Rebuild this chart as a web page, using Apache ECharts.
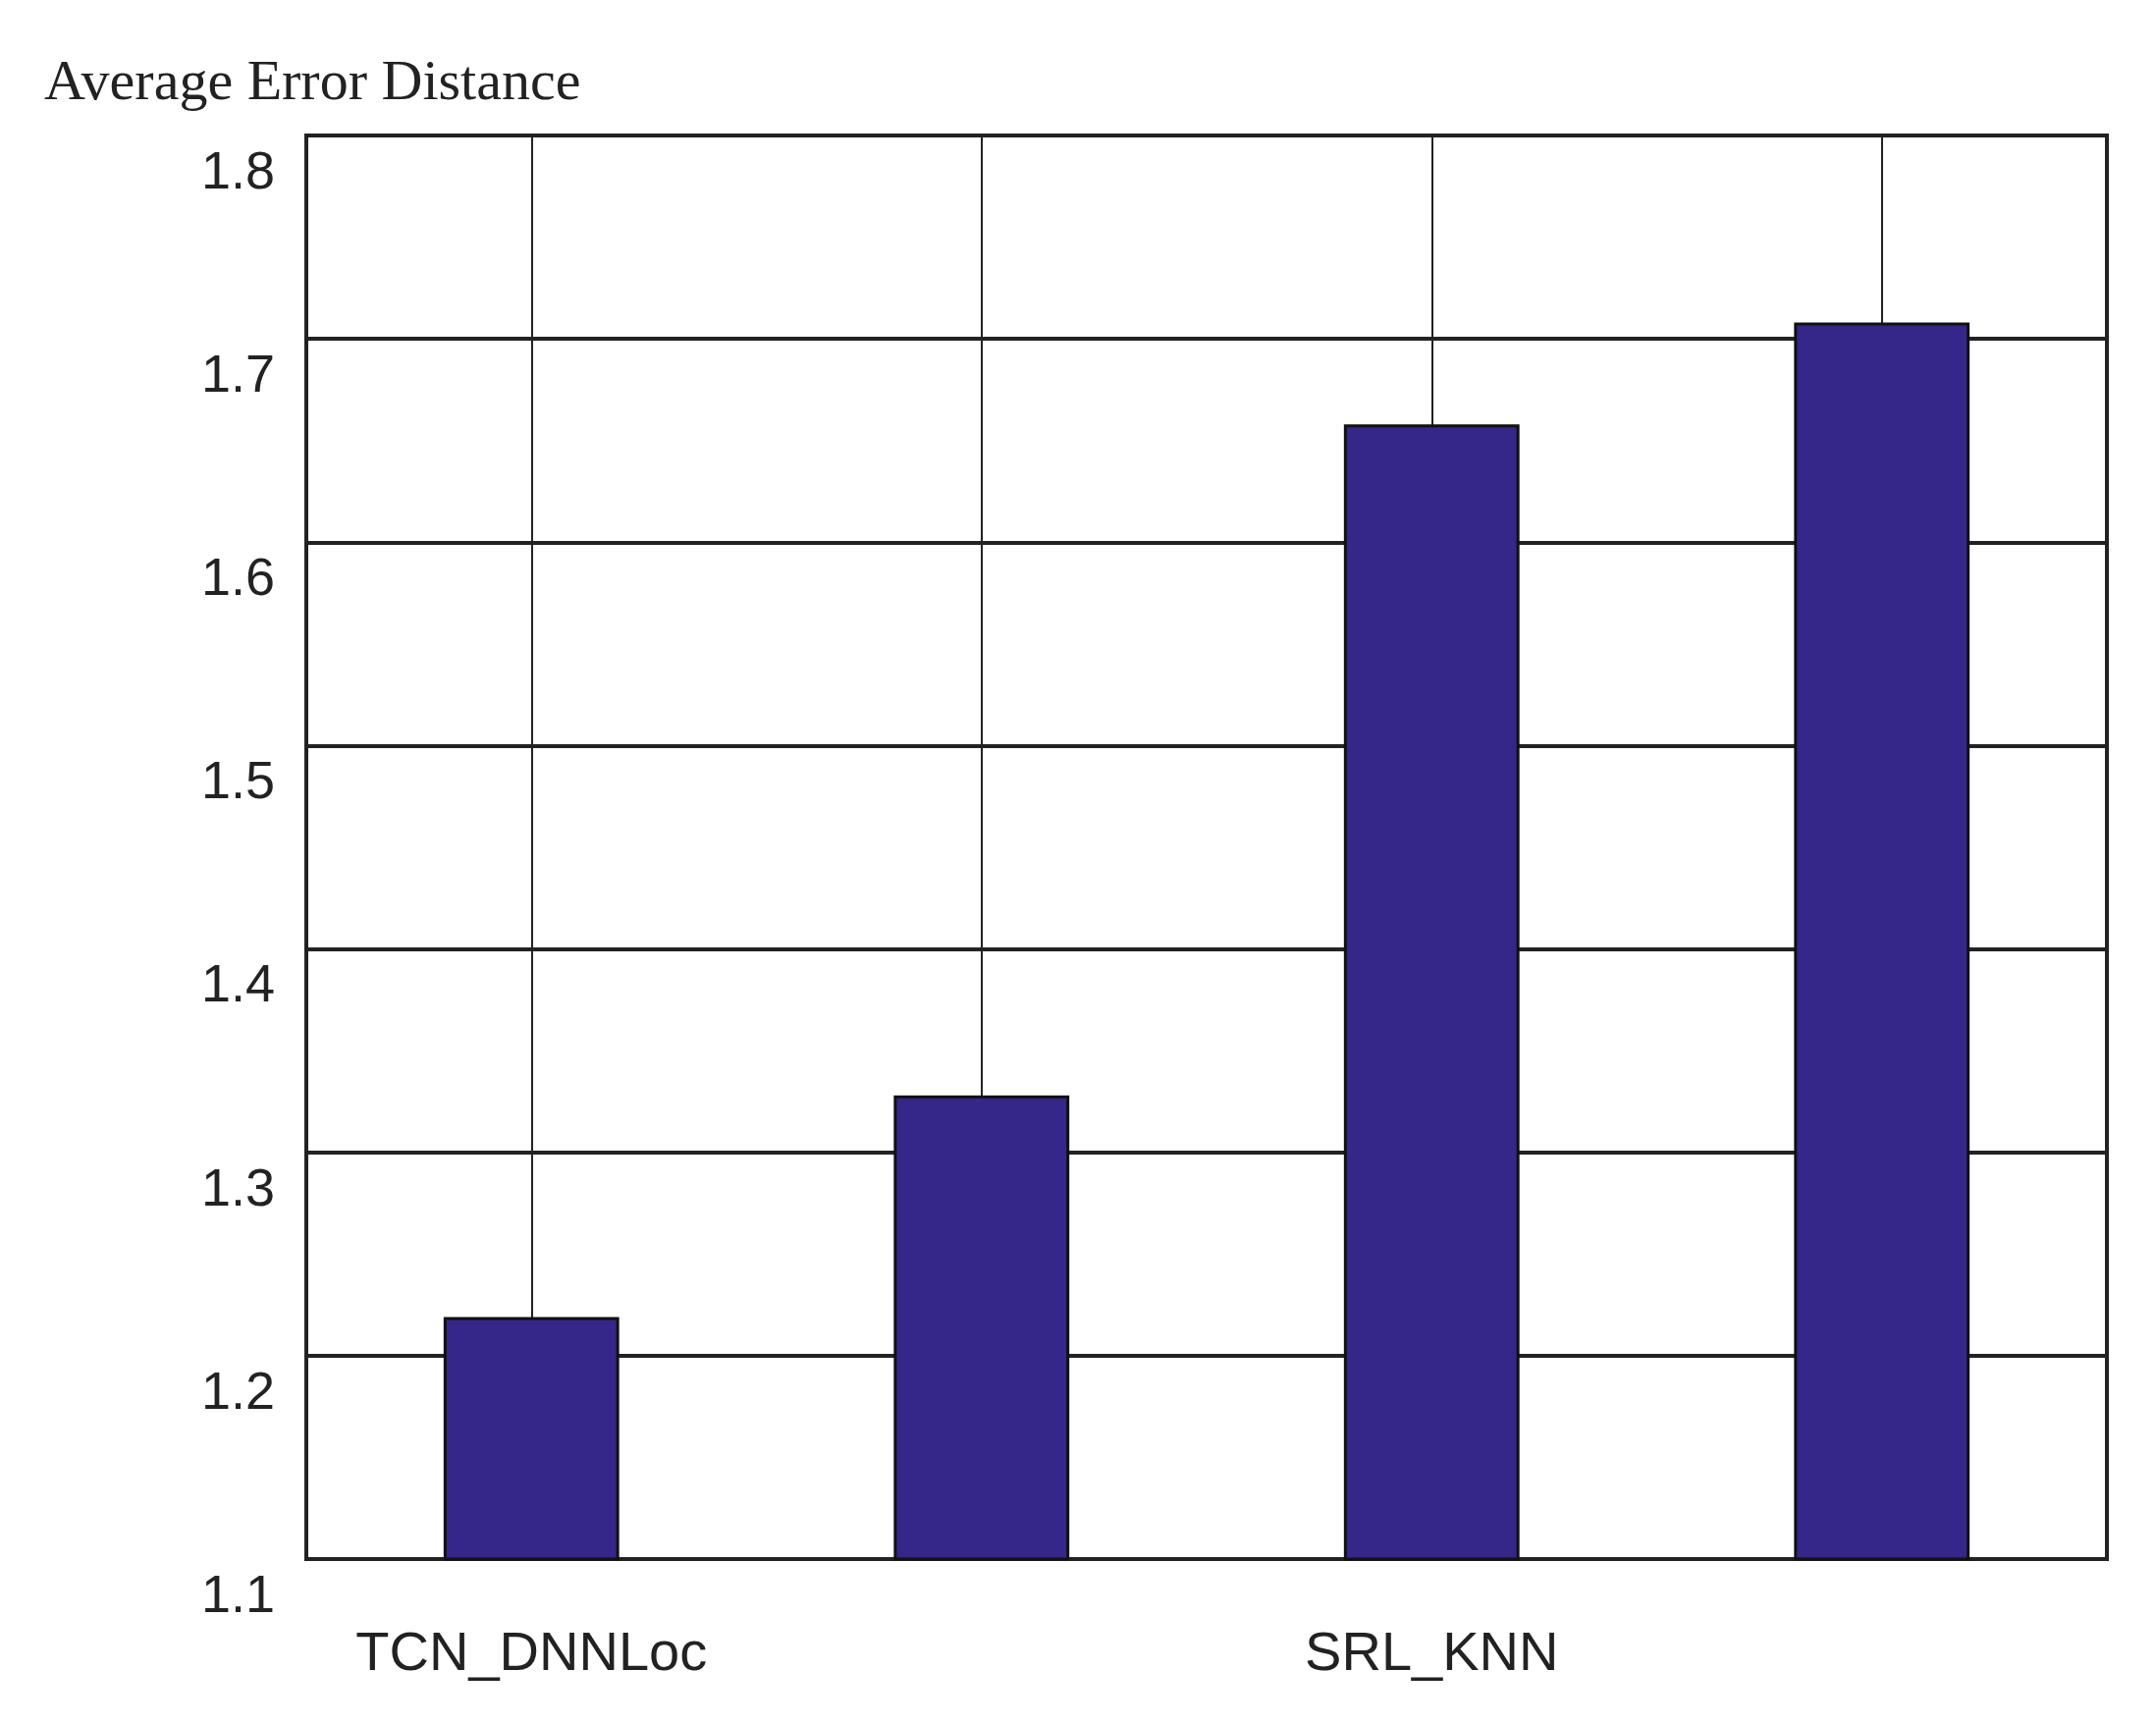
<!DOCTYPE html>
<html><head><meta charset="utf-8">
<script src="https://cdn.jsdelivr.net/npm/echarts@6/dist/echarts.min.js"></script>
<style>html,body{margin:0;background:#fff}#c{width:2196px;height:1756px}</style>
</head><body><div id="c"></div>
<script>
const categories = ['TCN_DNNLoc','LSTM','SRL_KNN','FNN'];
const values = [1.219, 1.328, 1.658, 1.708];
const yTitle = 'Average Error Distance';
const chart = echarts.init(document.getElementById('c'));
chart.setOption({
  backgroundColor:'#fff',
  animation:false,
  title:{text:yTitle,left:40,top:52,textStyle:{fontFamily:'Liberation Serif',fontSize:58,fontWeight:'normal',color:'#222'}},
  grid:{left:312,right:50,top:138,bottom:168,show:true,borderColor:'#222',borderWidth:4},
  xAxis:{type:'category',data:categories,
    axisLine:{lineStyle:{color:'#222',width:4}},axisTick:{show:false},
    axisLabel:{fontFamily:'Liberation Sans',fontSize:56,color:'#222',margin:70}},
  yAxis:{type:'value',min:1.1,max:1.8,interval:0.1,
    axisLine:{show:true,lineStyle:{color:'#222',width:4}},axisTick:{show:false},
    splitLine:{lineStyle:{color:'#222',width:4}},
    axisLabel:{fontFamily:'Liberation Sans',fontSize:54,color:'#222',margin:32,verticalAlign:'top',padding:[12,0,0,0],
      formatter:v=>v.toFixed(1)}},
  series:[{type:'bar',data:values,barWidth:'39%',z:3,
    itemStyle:{color:'#35268a',borderColor:'#111',borderWidth:3},
    markLine:{silent:true,symbol:'none',label:{show:false},z:1,
      lineStyle:{color:'#222',width:2,type:'solid'},
      data:categories.map(c=>({xAxis:c}))}}]
});
</script></body></html>
